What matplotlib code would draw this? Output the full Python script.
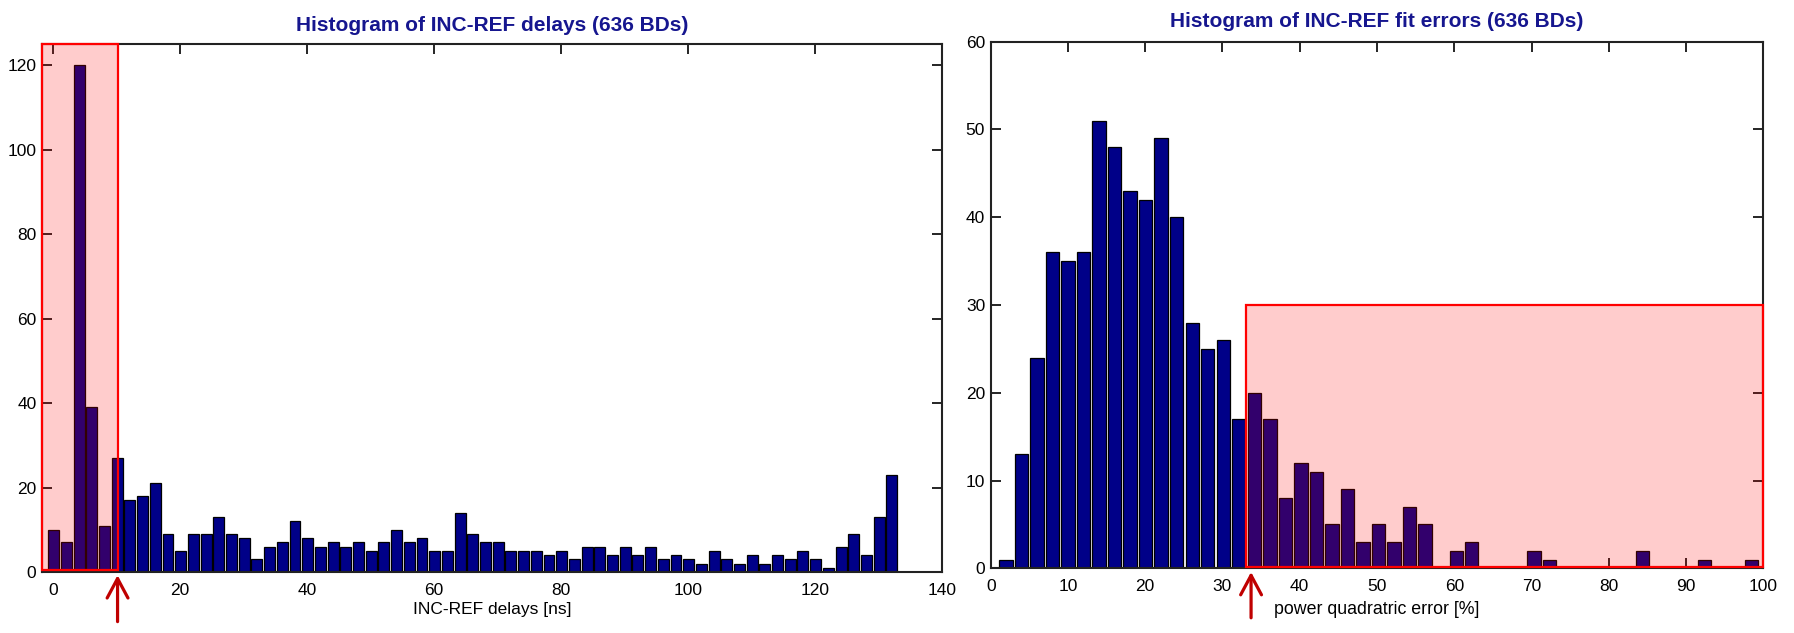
import numpy as np
import matplotlib
matplotlib.use("Agg")
import matplotlib.pyplot as plt
from matplotlib.patches import Rectangle

plt.rcParams['font.family'] = ['Liberation Sans', 'DejaVu Sans']

# ---------------- data ----------------
delay_bin_start = 0.1      # ns, centre of first bin
delay_bin_width = 2.0      # ns
delay_counts = [10, 7, 120, 39, 11, 27, 17, 18, 21, 9,
                5, 9, 9, 13, 9, 8, 3, 6, 7, 12,
                8, 6, 7, 6, 7, 5, 7, 10, 7, 8,
                5, 5, 14, 9, 7, 7, 5, 5, 5, 4,
                5, 3, 6, 6, 4, 6, 4, 6, 3, 4,
                3, 2, 5, 3, 2, 4, 2, 4, 3, 5,
                3, 1, 6, 9, 4, 13, 23]

error_bin_start = 1.96     # %, centre of first bin
error_bin_width = 2.01     # %
error_counts = [1, 13, 24, 36, 35, 36, 51, 48, 43, 42,
                49, 40, 28, 25, 26, 17, 20, 17, 8, 12,
                11, 5, 9, 3, 5, 3, 7, 5, 0, 2,
                3, 0, 0, 0, 2, 1, 0, 0, 0, 0,
                0, 2, 0, 0, 0, 1, 0, 0, 1]

delay_threshold = 10.15    # ns (arrow / highlighted zone limit)
error_threshold = 33.1     # % (highlighted zone start)
error_zone_top = 30

titles = ["Histogram of INC-REF delays (636 BDs)",
          "Histogram of INC-REF fit errors (636 BDs)"]
xlabels = ["INC-REF delays [ns]", "power quadratric error [%]"]
delay_xticks = [0, 20, 40, 60, 80, 100, 120, 140]
delay_yticks = [0, 20, 40, 60, 80, 100, 120]
error_xticks = [0, 10, 20, 30, 40, 50, 60, 70, 80, 90, 100]
error_yticks = [0, 10, 20, 30, 40, 50, 60]

# ---------------- style ----------------
BAR = '#000088'
TITLE_C = '#16168f'
ZONE = (1.0, 0.0, 0.0, 0.2)
ARROW_C = '#c00000'
W, H = 1794, 633

fig = plt.figure(figsize=(W / 100, H / 100), dpi=100)
fig.patch.set_facecolor('white')

def px_axes(l, t, r, b):
    return fig.add_axes([l / W, 1 - b / H, (r - l) / W, (b - t) / H])

ax1 = px_axes(42, 44, 942, 572)
ax2 = px_axes(990.7, 41.7, 1763.3, 568.3)

def style(ax, xticks, yticks):
    ax.set_xticks(xticks)
    ax.set_yticks(yticks)
    ax.tick_params(direction='in', length=7, width=1.2, top=True, right=True,
                   labelsize=12.5, colors='black')
    ax.tick_params(axis='x', pad=8)
    ax.tick_params(axis='y', pad=4)
    for s in ax.spines.values():
        s.set_linewidth(1.5)
        s.set_color('#222222')

# left histogram
dc = delay_bin_start + delay_bin_width * np.arange(len(delay_counts))
ax1.bar(dc, delay_counts, width=delay_bin_width * 0.86, color=BAR,
        edgecolor='black', linewidth=0.9, zorder=2)
ax1.set_xlim(-1.75, 140)
ax1.set_ylim(0, 125)
style(ax1, delay_xticks, delay_yticks)
ax1.set_title(titles[0], color=TITLE_C, fontweight='bold', fontsize=15, pad=9.5)
ax1.set_xlabel(xlabels[0], fontsize=12.5, labelpad=3)
ax1.add_patch(Rectangle((-1.75, 0.4), delay_threshold + 1.75, 124.6,
                        facecolor=ZONE, edgecolor='red', linewidth=1.6,
                        zorder=3, clip_on=False))

# right histogram
ec = error_bin_start + error_bin_width * np.arange(len(error_counts))
ax2.bar(ec, error_counts, width=error_bin_width * 0.86, color=BAR,
        edgecolor='black', linewidth=0.9, zorder=2)
ax2.set_xlim(0, 100)
ax2.set_ylim(0, 60)
style(ax2, error_xticks, error_yticks)
ax2.set_title(titles[1], color=TITLE_C, fontweight='bold', fontsize=15, pad=10.5)
ax2.set_xlabel(xlabels[1], fontsize=12.8, labelpad=5)
ax2.add_patch(Rectangle((error_threshold, 0.1), 99.9 - error_threshold,
                        error_zone_top - 0.1,
                        facecolor=ZONE, edgecolor='red', linewidth=1.6,
                        zorder=3, clip_on=False))

# arrows
def arrow(ax, x, y0, y1):
    ax.annotate('', xy=(x, y1), xycoords=ax.get_xaxis_transform(),
                xytext=(x, y0), textcoords=ax.get_xaxis_transform(),
                arrowprops=dict(arrowstyle='->,head_length=1.4,head_width=0.75',
                                color=ARROW_C, linewidth=2.3, mutation_scale=10,
                                shrinkA=0, shrinkB=0),
                annotation_clip=False)

arrow(ax1, delay_threshold, -0.094, -0.006)
arrow(ax2, error_threshold + 0.6, -0.094, -0.007)

fig.savefig('out.png', dpi=100, facecolor='white')
